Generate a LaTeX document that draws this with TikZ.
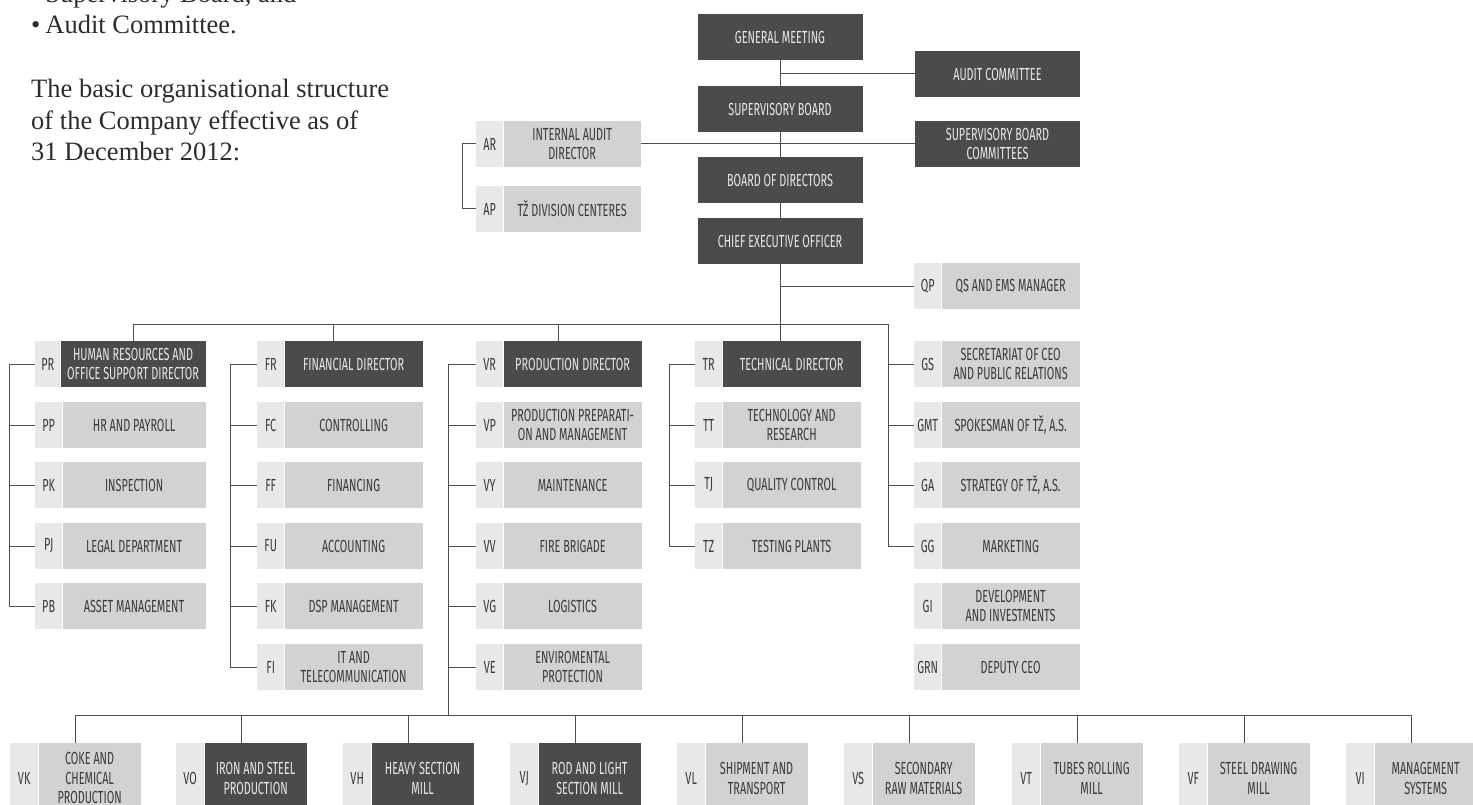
\documentclass[tikz,border=0pt]{standalone}
\usepackage{fontspec}
\newfontfamily\boxfont[FakeStretch=0.62]{Fira Sans}
\newfontfamily\introfont{Liberation Serif}
\usetikzlibrary{positioning, calc}
\definecolor{darkfill}{RGB}{74,75,77}
\definecolor{greyfill}{RGB}{209,210,212}
\definecolor{tagfill}{RGB}{231,232,233}
\definecolor{inkdark}{RGB}{58,58,60}
\definecolor{inklight}{RGB}{232,232,232}
\definecolor{linkgrey}{RGB}{78,79,81}
\definecolor{bodytext}{RGB}{45,45,47}

\begin{document}
\begin{tikzpicture}[
    x=1pt, y=-1pt,
    node distance=0pt,
    tag/.style={rectangle, fill=tagfill, minimum width=27pt, minimum height=46pt,
                inner sep=0pt, font=\boxfont\fontsize{17.5}{19.7}\selectfont, text=inkdark},
    dept/.style={tag, fill=greyfill, minimum width=138pt, align=center},
    lead/.style={dept, fill=darkfill, text=inklight},
    board/.style={lead, minimum width=165pt},
    btag/.style={tag, minimum width=28pt, minimum height=70pt},
    bdept/.style={dept, minimum width=102pt, minimum height=70pt},
    blead/.style={bdept, fill=darkfill, text=inklight},
    intro/.style={anchor=base west, inner sep=0pt, text=bodytext,
                  font=\introfont\fontsize{26.5}{31.5}\selectfont},
    link/.style={draw=linkgrey, line width=1pt}
]
\useasboundingbox (0,0) rectangle (1473,805);
\clip (0,0) rectangle (1473,805);

% introductory text
\node[intro] (txtA) at (31,2.5) {\textbullet\hspace{5pt}Supervisory Board, and};
\node[intro] (txtB) at (31,34) {\textbullet\hspace{5pt}Audit Committee.};
\node[intro] (txtC) at (31,98) {The basic organisational structure};
\node[intro] (txtD) at (31,129.5) {of the Company effective as of};
\node[intro] (txtE) at (31,161) {31 December 2012:};

% governing bodies
\node[board] (gm) at (780,37) {GENERAL MEETING};
\node[board] (sb) at (780,109) {SUPERVISORY BOARD};
\node[board] (bod) at (780,180) {BOARD OF DIRECTORS};
\node[board] (ceo) at (780,241) {CHIEF EXECUTIVE OFFICER};
\node[board] (ac) at (997.5,74) {AUDIT COMMITTEE};
\node[board] (sbc) at (997.5,144) {SUPERVISORY BOARD\\COMMITTEES};

\node[tag, anchor=west] (ar) at (476,144) {AR};
\node[dept, right=of ar, minimum width=137pt] (arB) {INTERNAL AUDIT\\DIRECTOR};
\node[tag, anchor=west] (ap) at (476,209) {AP};
\node[dept, right=of ap, minimum width=137pt] (apB) {TŽ DIVISION CENTERES};
\node[tag, anchor=west] (qp) at (914,286) {QP};
\node[dept, right=of qp] (qpB) {QS AND EMS MANAGER};

% human resources
\node[tag, anchor=west, minimum width=25pt] (pr) at (35,364) {PR};
\node[lead, right=of pr, minimum width=145pt] (prB) {HUMAN RESOURCES AND\\OFFICE SUPPORT DIRECTOR};
\node[tag, anchor=west] (pp) at (35,425) {PP};
\node[dept, right=of pp, minimum width=143pt] (ppB) {HR AND PAYROLL};
\node[tag, anchor=west] (pk) at (35,485) {PK};
\node[dept, right=of pk, minimum width=143pt] (pkB) {INSPECTION};
\node[tag, anchor=west] (pj) at (35,546) {PJ};
\node[dept, right=of pj, minimum width=143pt] (pjB) {LEGAL DEPARTMENT};
\node[tag, anchor=west] (pb) at (35,606) {PB};
\node[dept, right=of pb, minimum width=143pt] (pbB) {ASSET MANAGEMENT};

% finance
\node[tag, anchor=west] (fr) at (257,364) {FR};
\node[lead, right=of fr] (frB) {FINANCIAL DIRECTOR};
\node[tag, anchor=west] (fc) at (257,425) {FC};
\node[dept, right=of fc] (fcB) {CONTROLLING};
\node[tag, anchor=west] (ff) at (257,485) {FF};
\node[dept, right=of ff] (ffB) {FINANCING};
\node[tag, anchor=west] (fu) at (257,546) {FU};
\node[dept, right=of fu] (fuB) {ACCOUNTING};
\node[tag, anchor=west] (fk) at (257,606) {FK};
\node[dept, right=of fk] (fkB) {DSP MANAGEMENT};
\node[tag, anchor=west] (fi) at (257,667) {FI};
\node[dept, right=of fi] (fiB) {IT AND\\TELECOMMUNICATION};

% production
\node[tag, anchor=west] (vr) at (476,364) {VR};
\node[lead, right=of vr] (vrB) {PRODUCTION DIRECTOR};
\node[tag, anchor=west] (vp) at (476,425) {VP};
\node[dept, right=of vp] (vpB) {PRODUCTION PREPARATI-\\ON AND MANAGEMENT};
\node[tag, anchor=west] (vy) at (476,485) {VY};
\node[dept, right=of vy] (vyB) {MAINTENANCE};
\node[tag, anchor=west] (vv) at (476,546) {VV};
\node[dept, right=of vv] (vvB) {FIRE BRIGADE};
\node[tag, anchor=west] (vg) at (476,606) {VG};
\node[dept, right=of vg] (vgB) {LOGISTICS};
\node[tag, anchor=west] (ve) at (476,667) {VE};
\node[dept, right=of ve] (veB) {ENVIROMENTAL\\PROTECTION};

% technical
\node[tag, anchor=west] (tr) at (695,364) {TR};
\node[lead, right=of tr] (trB) {TECHNICAL DIRECTOR};
\node[tag, anchor=west] (tt) at (695,425) {TT};
\node[dept, right=of tt] (ttB) {TECHNOLOGY AND\\RESEARCH};
\node[tag, anchor=west] (tj) at (695,485) {TJ};
\node[dept, right=of tj] (tjB) {QUALITY CONTROL};
\node[tag, anchor=west] (tz) at (695,546) {TZ};
\node[dept, right=of tz] (tzB) {TESTING PLANTS};

% ceo staff
\node[tag, anchor=west] (gs) at (914,364) {GS};
\node[dept, right=of gs] (gsB) {SECRETARIAT OF CEO\\AND PUBLIC RELATIONS};
\node[tag, anchor=west] (gmt) at (914,425) {GMT};
\node[dept, right=of gmt] (gmtB) {SPOKESMAN OF TŽ, A.S.};
\node[tag, anchor=west] (ga) at (914,485) {GA};
\node[dept, right=of ga] (gaB) {STRATEGY OF TŽ, A.S.};
\node[tag, anchor=west] (gg) at (914,546) {GG};
\node[dept, right=of gg] (ggB) {MARKETING};
\node[tag, anchor=west] (gi) at (914,606) {GI};
\node[dept, right=of gi] (giB) {DEVELOPMENT\\AND INVESTMENTS};
\node[tag, anchor=west] (grn) at (914,667) {GRN};
\node[dept, right=of grn] (grnB) {DEPUTY CEO};

% plants
\node[btag, anchor=north west] (vk) at (10,743) {VK};
\node[bdept, right=of vk] (vkB) {COKE AND\\CHEMICAL\\PRODUCTION};
\node[btag, anchor=north west] (vo) at (176,743) {VO};
\node[blead, right=of vo] (voB) {IRON AND STEEL\\PRODUCTION};
\node[btag, anchor=north west] (vh) at (343,743) {VH};
\node[blead, right=of vh] (vhB) {HEAVY SECTION\\MILL};
\node[btag, anchor=north west] (vj) at (510,743) {VJ};
\node[blead, right=of vj] (vjB) {ROD AND LIGHT\\SECTION MILL};
\node[btag, anchor=north west] (vl) at (677,743) {VL};
\node[bdept, right=of vl] (vlB) {SHIPMENT AND\\TRANSPORT};
\node[btag, anchor=north west] (vs) at (844,743) {VS};
\node[bdept, right=of vs] (vsB) {SECONDARY\\RAW MATERIALS};
\node[btag, anchor=north west] (vt) at (1012,743) {VT};
\node[bdept, right=of vt] (vtB) {TUBES ROLLING\\MILL};
\node[btag, anchor=north west] (vf) at (1179,743) {VF};
\node[bdept, right=of vf] (vfB) {STEEL DRAWING\\MILL};
\node[btag, anchor=north west] (vi) at (1346,743) {VI};
\node[bdept, right=of vi] (viB) {MANAGEMENT\\SYSTEMS};

% connectors: governing bodies
\draw[link] (gm) -- (sb);
\draw[link] (sb) -- (bod);
\draw[link] (bod) -- (ceo);
\draw[link] (ceo.south) -- (ceo.south |- trB.north);
\draw[link] (gm.south |- ac.west) -- (ac.west);
\draw[link] (arB.east) -- (sbc.west);
\draw[link] (ar.west) -- ++(-14,0) |- (ap.west);
\draw[link] (ceo.south |- qp.west) -- (qp.west);

% connectors: directors
\coordinate (gbus) at (888,324);
\draw[link] (prB.north) -- (prB.north |- gbus) -- (gbus) |- (gg.west);
\draw[link] ([xshift=-20pt]frB.north) -- ++(0,-17);
\draw[link] ($(vr.north west)!.5!(vrB.north east)$) -- ++(0,-17);
\draw[link] (pr.west) -- ++(-26,0) |- (pb.west);
\draw[link] (pp.west) -- ++(-26,0);
\draw[link] (pk.west) -- ++(-26,0);
\draw[link] (pj.west) -- ++(-26,0);
\draw[link] (fr.west) -- ++(-27,0) |- (fi.west);
\draw[link] (fc.west) -- ++(-27,0);
\draw[link] (ff.west) -- ++(-27,0);
\draw[link] (fu.west) -- ++(-27,0);
\draw[link] (fk.west) -- ++(-27,0);
\draw[link] (vr.west) -- ++(-28,0) -- ++(0,351);
\draw[link] (vp.west) -- ++(-28,0);
\draw[link] (vy.west) -- ++(-28,0);
\draw[link] (vv.west) -- ++(-28,0);
\draw[link] (vg.west) -- ++(-28,0);
\draw[link] (ve.west) -- ++(-28,0);
\draw[link] (tr.west) -- ++(-26,0) |- (tz.west);
\draw[link] (tt.west) -- ++(-26,0);
\draw[link] (tj.west) -- ++(-26,0);
\draw[link] (gs.west) -- ++(-26,0);
\draw[link] (gmt.west) -- ++(-26,0);
\draw[link] (ga.west) -- ++(-26,0);

% connectors: plants
\coordinate (pbusL) at ($(vk.north west)!.5!(vkB.north east) + (0,-28)$);
\coordinate (pbusR) at ($(vi.north west)!.5!(viB.north east) + (0,-28)$);
\draw[link] (pbusL) -- (pbusR);
\draw[link] ($(vk.north west)!.5!(vkB.north east)$) -- ++(0,-28);
\draw[link] ($(vo.north west)!.5!(voB.north east)$) -- ++(0,-28);
\draw[link] ($(vh.north west)!.5!(vhB.north east)$) -- ++(0,-28);
\draw[link] ($(vj.north west)!.5!(vjB.north east)$) -- ++(0,-28);
\draw[link] ($(vl.north west)!.5!(vlB.north east)$) -- ++(0,-28);
\draw[link] ($(vs.north west)!.5!(vsB.north east)$) -- ++(0,-28);
\draw[link] ($(vt.north west)!.5!(vtB.north east)$) -- ++(0,-28);
\draw[link] ($(vf.north west)!.5!(vfB.north east)$) -- ++(0,-28);
\draw[link] ($(vi.north west)!.5!(viB.north east)$) -- ++(0,-28);
\end{tikzpicture}
\end{document}
